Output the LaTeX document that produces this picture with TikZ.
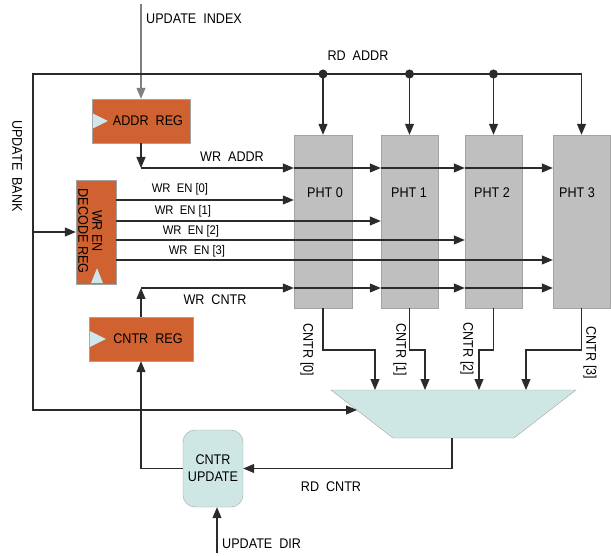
\documentclass[tikz,border=0pt]{standalone}
\usepackage{fontspec}
\setmainfont{Liberation Sans}[FakeStretch=0.9]
\usetikzlibrary{arrows.meta,calc}
\definecolor{regorange}{HTML}{CF6230}
\definecolor{clkblue}{HTML}{CFE6EA}
\definecolor{phtgray}{HTML}{BFBFBF}
\definecolor{phtedge}{HTML}{A3A3A3}
\definecolor{muxfill}{HTML}{CFE7E4}
\definecolor{wire}{HTML}{2B2B2B}
\begin{document}
\begin{tikzpicture}[x=1pt,y=-1pt,
  font=\fontsize{14}{16}\selectfont,
  regbox/.style={draw=phtedge, fill=regorange, inner sep=0pt},
  phtbox/.style={draw=phtedge, fill=phtgray, minimum width=57pt, minimum height=173pt, inner sep=0pt},
  wirearrow/.style={draw=wire, line width=1.1pt, -{Triangle[length=11pt,width=9pt]}},
  wireline/.style={draw=wire, line width=1.1pt},
  lbl/.style={inner sep=0pt},
  smalllbl/.style={inner sep=0pt, font=\fontsize{12.5}{14}\selectfont},
  clk/.style={fill=clkblue},
  junction/.style={fill=wire}
]
\useasboundingbox (0,0) rectangle (611,556);

% registers
\node[regbox, minimum width=98pt, minimum height=44pt] (addr) at (141,121) {\hspace*{14pt}ADDR~~REG};
\node[regbox, minimum width=40pt, minimum height=104pt] (dec) at (96,232) {};
\node[lbl, rotate=-90, align=center, font=\fontsize{14}{14}\selectfont] (dectxt) at (90,231) {WR EN\\DECODE REG};
\node[regbox, minimum width=104pt, minimum height=44pt] (cntr) at (141,339) {\hspace*{14pt}CNTR~~REG};

% clock triangles
\fill[clk] ($(addr.west)+(1,-7.5)$) -- ($(addr.west)+(16,0)$) -- ($(addr.west)+(1,7.5)$) -- cycle;
\fill[clk] ($(cntr.west)+(1,-8)$) -- ($(cntr.west)+(17,0)$) -- ($(cntr.west)+(1,8)$) -- cycle;
\fill[clk] ($(dec.south)+(-5,-1)$) -- ($(dec.south)+(1,-16)$) -- ($(dec.south)+(7,-1)$) -- cycle;

% PHTs
\node[phtbox, minimum width=58pt] (pht0) at (323,221.5) {};
\node[phtbox] (pht1) at (409.5,221.5) {};
\node[phtbox] (pht2) at (493.5,221.5) {};
\node[phtbox] (pht3) at (581.5,221.5) {};
\node[lbl] (p0t) at (325,193) {PHT 0};
\node[lbl] (p1t) at (409,193) {PHT 1};
\node[lbl] (p2t) at (492,193) {PHT 2};
\node[lbl] (p3t) at (577,193) {PHT 3};

% mux
\draw[draw=phtedge, fill=muxfill] (331,390) -- (576,390) -- (514,438) -- (393,438) -- cycle;
\coordinate (muxin) at (357,410);
\coordinate (muxout) at (452,438);
\coordinate (m0) at (375,390);
\coordinate (m1) at (425,390);
\coordinate (m2) at (479,390);
\coordinate (m3) at (526,390);

% counter update
\node[draw=phtedge, fill=muxfill, rounded corners=12pt, minimum width=60pt, minimum height=77pt, align=center, inner sep=0pt, font=\fontsize{14}{17}\selectfont] (cupd) at (213,468.5) {CNTR\\UPDATE};

% update index
\coordinate (ui) at (141,4);
\draw[wirearrow, draw=gray] (ui) -- (addr.north);
\node[lbl, anchor=west] (uitxt) at (146,19) {UPDATE~~INDEX};

% RD ADDR and UPDATE BANK
\coordinate (bk) at (33,232);
\coordinate (rd) at (33,74);
\draw[wirearrow] (bk) -- (rd) -| (pht3.north);
\draw[wirearrow] (bk) -- (dec.west);
\draw[wirearrow] (bk) |- (muxin);
\foreach \i in {0,1,2}{
  \draw[wirearrow] (pht\i.north |- rd) -- (pht\i.north);
  \fill[junction] (pht\i.north |- rd) circle[radius=4.5pt];
}
\node[lbl] (rdtxt) at (358,56) {RD~~ADDR};
\node[lbl, rotate=-90] (ubtxt) at (17,166) {UPDATE~~BANK};

% WR ADDR
\coordinate (wa) at (141,168);
\draw[wirearrow] (addr.south) -- (wa);
\draw[wirearrow] (wa) -- (wa -| pht0.west);
\draw[wirearrow] (wa -| pht0.west) -- (wa -| pht1.west);
\draw[wirearrow] (wa -| pht1.west) -- (wa -| pht2.west);
\draw[wirearrow] (wa -| pht2.west) -- (wa -| pht3.west);
\node[lbl] (watxt) at (232,157) {WR~~ADDR};

% WR EN
\coordinate (e0) at (116,200);
\coordinate (e1) at (116,221);
\coordinate (e2) at (116,240);
\coordinate (e3) at (116,260);
\draw[wirearrow] (e0) -- (e0 -| pht0.west);
\draw[wirearrow] (e1) -- (e1 -| pht1.west);
\draw[wirearrow] (e2) -- (e2 -| pht2.west);
\draw[wirearrow] (e3) -- (e3 -| pht3.west);
\node[smalllbl] (en0) at (180,189) {WR~~EN [0]};
\node[smalllbl] (en1) at (183,211) {WR~~EN [1]};
\node[smalllbl] (en2) at (191,231) {WR~~EN [2]};
\node[smalllbl] (en3) at (197,251) {WR~~EN [3]};

% WR CNTR
\coordinate (wc) at (141,288);
\draw[wirearrow] (cntr.north) -- (wc);
\draw[wirearrow] (wc) -- (wc -| pht0.west);
\draw[wirearrow] (wc -| pht0.west) -- (wc -| pht1.west);
\draw[wirearrow] (wc -| pht1.west) -- (wc -| pht2.west);
\draw[wirearrow] (wc -| pht2.west) -- (wc -| pht3.west);
\node[lbl] (wctxt) at (215,300) {WR~~CNTR};

% CNTR outputs
\coordinate (cy) at (0,350);
\draw[wirearrow] (pht0.south) -- (pht0.south |- cy) -| (m0);
\draw[wirearrow] (pht1.south) -- (pht1.south |- cy) -| (m1);
\draw[wirearrow] (pht2.south) -- (pht2.south |- cy) -| (m2);
\draw[wirearrow] (pht3.south) -- (pht3.south |- cy) -| (m3);
\node[lbl, rotate=-90] (c0t) at (307,350) {CNTR [0]};
\node[lbl, rotate=-90] (c1t) at (400,350) {CNTR [1]};
\node[lbl, rotate=-90] (c2t) at (467,349) {CNTR [2]};
\node[lbl, rotate=-90] (c3t) at (590,353) {CNTR [3]};

% RD CNTR and feedback
\draw[wirearrow] (muxout) |- (cupd.east);
\node[lbl] (rctxt) at (331,487) {RD~~CNTR};
\draw[wirearrow] (cupd.west) -| (cntr.south);
\coordinate (ud) at (217,553);
\draw[wirearrow] (ud) -- (ud |- cupd.south);
\node[lbl, anchor=west] (udtxt) at (222,544) {UPDATE~~DIR};
\end{tikzpicture}
\end{document}
